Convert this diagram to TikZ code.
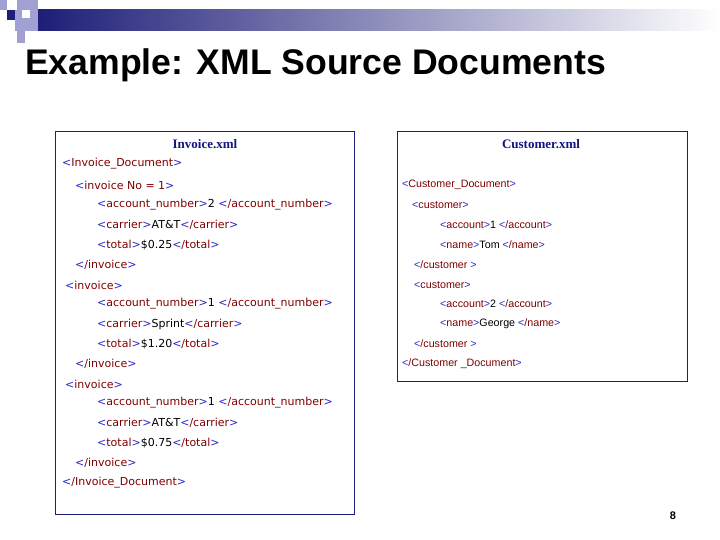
\documentclass[tikz,border=0pt]{standalone}
\usepackage{fontspec}
\setmainfont{Liberation Serif}
\newfontfamily\arial{Liberation Sans}
\newfontfamily\verd{DejaVu Sans}
\definecolor{navy}{RGB}{30,30,120}
\definecolor{lav}{RGB}{160,160,210}
\definecolor{tagred}{RGB}{128,0,0}
\definecolor{brk}{RGB}{40,40,200}
\definecolor{ttl}{RGB}{20,20,130}
\newcommand{\lt}{\textcolor{brk}{<}}
\newcommand{\gt}{\textcolor{brk}{>}}
\newcommand{\tg}[1]{\lt\textcolor{tagred}{#1}\gt}
\begin{document}
\begin{tikzpicture}[x=1pt,y=-1pt,
  xl/.style={anchor=west,inner sep=0pt,font=\verd\fontsize{11}{13}\selectfont},
  xr/.style={anchor=west,inner sep=0pt,font=\arial\fontsize{10.7}{12}\selectfont},
  ttlnode/.style={inner sep=0pt,font=\bfseries\fontsize{13}{15}\selectfont,text=ttl},
  boxs/.style={draw=navy,line width=0.8pt}]
\useasboundingbox (0,0) rectangle (720,540);
\fill[white] (0,0) rectangle (720,540);
% header
\shade[left color=navy,right color=white] (38,10) rectangle (720,31);
\fill[lav] (0,0) rectangle (7,10);
\fill[lav] (17,0) rectangle (38,10);
\fill[lav] (15,10) rectangle (38,31);
\fill[navy] (7,10) rectangle (15,20);
\fill[lav] (17,31) rectangle (25,43);
\fill[white] (22,10) rectangle (30,18);
\node[anchor=base west,inner sep=0pt,font=\arial\bfseries\fontsize{35.6}{40}\selectfont] (title) at (25,75) {Example: XML Source Documents};
% boxes
\draw[boxs] (55,131) rectangle (354,514);
\draw[boxs] (397,131) rectangle (687,381);
\node[ttlnode] (t1) at (205,144) {Invoice.xml};
\node[ttlnode] (t2) at (541,144) {Customer.xml};
% left
\node[xl] (l1) at (62,164) {\tg{Invoice\_Document}};
\node[xl] (l2) at (75,185) {\lt\textcolor{tagred}{invoice No = 1}\gt};
\node[xl] (l3) at (97,205) {\tg{account\_number}2 \tg{/account\_number}};
\node[xl] (l4) at (97,225) {\tg{carrier}AT\&T\tg{/carrier}};
\node[xl] (l5) at (97,245) {\tg{total}\$0.25\tg{/total}};
\node[xl] (l6) at (75,265) {\tg{/invoice}};
\node[xl] (l7) at (65,285) {\tg{invoice}};
\node[xl] (l8) at (97,304) {\tg{account\_number}1 \tg{/account\_number}};
\node[xl] (l9) at (97,324) {\tg{carrier}Sprint\tg{/carrier}};
\node[xl] (l10) at (97,344) {\tg{total}\$1.20\tg{/total}};
\node[xl] (l11) at (75,364) {\tg{/invoice}};
\node[xl] (l12) at (65,384) {\tg{invoice}};
\node[xl] (l13) at (97,403) {\tg{account\_number}1 \tg{/account\_number}};
\node[xl] (l14) at (97,423) {\tg{carrier}AT\&T\tg{/carrier}};
\node[xl] (l15) at (97,443) {\tg{total}\$0.75\tg{/total}};
\node[xl] (l16) at (75,463) {\tg{/invoice}};
\node[xl] (l17) at (62,483) {\tg{/Invoice\_Document}};
% right
\node[xr] (r1) at (402,185) {\tg{Customer\_Document}};
\node[xr] (r2) at (412,205) {\tg{customer}};
\node[xr] (r3) at (440,225) {\tg{account}1 \tg{/account}};
\node[xr] (r4) at (440,245) {\tg{name}Tom \tg{/name}};
\node[xr] (r5) at (414,265) {\lt\textcolor{tagred}{/customer }\gt};
\node[xr] (r6) at (414,285) {\tg{customer}};
\node[xr] (r7) at (440,304) {\tg{account}2 \tg{/account}};
\node[xr] (r8) at (440,324) {\tg{name}George \tg{/name}};
\node[xr] (r9) at (414,344) {\lt\textcolor{tagred}{/customer }\gt};
\node[xr] (r10) at (402,364) {\lt\textcolor{tagred}{/Customer \_Document}\gt};
\node[inner sep=0pt,font=\arial\bfseries\fontsize{11}{13}\selectfont] (pg) at (673,516) {8};
\end{tikzpicture}
\end{document}
